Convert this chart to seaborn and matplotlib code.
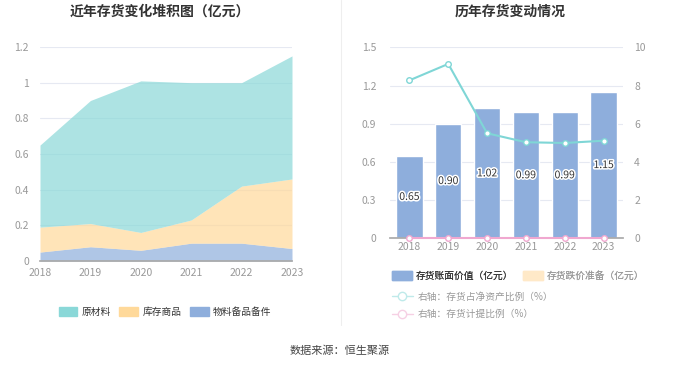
import numpy as np
import pandas as pd
import matplotlib.pyplot as plt
import seaborn as sns
from matplotlib.patches import Patch
from matplotlib.lines import Line2D
import matplotlib.patheffects as pe

# --- data ---
years = ['2018', '2019', '2020', '2021', '2022', '2023']
raw_material = [0.46, 0.69, 0.85, 0.77, 0.58, 0.69]     # 原材料
goods_stock = [0.14, 0.13, 0.10, 0.13, 0.32, 0.39]      # 库存商品
spare_parts = [0.05, 0.08, 0.06, 0.10, 0.10, 0.07]      # 物料备品备件

book_value = [0.65, 0.90, 1.02, 0.99, 0.99, 1.15]       # 存货账面价值（亿元）
net_asset_ratio = [8.27, 9.13, 5.50, 5.03, 4.99, 5.11]  # 存货占净资产比例（%）
provision_ratio = [0, 0, 0, 0, 0, 0]                    # 存货计提比例（%）

sns.set_theme(style='white')
plt.rcParams['font.family'] = ['Noto Sans CJK SC', 'DejaVu Sans']
plt.rcParams['axes.unicode_minus'] = False

c_raw = '#8ad8d8'
c_goods = '#ffd99a'
c_parts = '#8eaedc'
grid_c = '#e6e9f2'
tick_c = '#999999'

fig = plt.figure(figsize=(6.8, 3.67), dpi=100)

# ---------- left: stacked area ----------
ax = fig.add_axes([40 / 680, 106 / 367, 252 / 680, 214 / 367])
x = np.arange(len(years))
b1 = np.array(spare_parts)
b2 = b1 + np.array(goods_stock)
b3 = b2 + np.array(raw_material)
ax.fill_between(x, 0, b1, color=c_parts, alpha=0.7, lw=0)
ax.fill_between(x, b1, b2, color=c_goods, alpha=0.7, lw=0)
ax.fill_between(x, b2, b3, color=c_raw, alpha=0.7, lw=0)
ax.set_xlim(0, len(years) - 1)
ax.set_ylim(0, 1.2)
ax.set_yticks([0, 0.2, 0.4, 0.6, 0.8, 1, 1.2])
ax.set_yticklabels(['0', '0.2', '0.4', '0.6', '0.8', '1', '1.2'])
ax.set_xticks(x)
ax.set_xticklabels(years)
ax.yaxis.grid(True, color=grid_c, lw=0.8)
ax.set_axisbelow(True)
for s in ['top', 'right', 'left']:
    ax.spines[s].set_visible(False)
ax.spines['bottom'].set_color('#aaaaaa')
ax.tick_params(axis='y', length=0, labelsize=7.5, colors=tick_c, pad=8)
ax.tick_params(axis='x', length=3, color='#aaaaaa', labelsize=7.5, colors=tick_c, pad=2)
fig.text(160 / 680, 1 - 12 / 367, '近年存货变化堆积图（亿元）', ha='center', va='center',
         fontsize=10, fontweight='bold', color='#333333')

left_handles = [Patch(color=c_raw, label='原材料'),
                Patch(color=c_goods, label='库存商品'),
                Patch(color=c_parts, label='物料备品备件')]
fig.legend(handles=left_handles, loc='center', bbox_to_anchor=(165 / 680, 1 - 312 / 367),
           ncol=3, frameon=False, fontsize=7, handlelength=1.9, handleheight=1.1,
           columnspacing=0.9, handletextpad=0.45, labelcolor='#333333')

# divider
fig.add_artist(Line2D([341 / 680, 341 / 680], [1 - 325 / 367, 1.0], color='#eeeeee', lw=0.8))

# ---------- right: bars + ratio lines ----------
axr = fig.add_axes([390 / 680, 1 - 238.3 / 367, 233 / 680, 191 / 367])
df = pd.DataFrame({'year': years, 'value': book_value})
sns.barplot(data=df, x='year', y='value', color=c_parts, saturation=1, width=0.68, ax=axr)
axr.set_xlim(-0.5, len(years) - 0.5)
axr.set_ylim(0, 1.5)
axr.set_yticks([0, 0.3, 0.6, 0.9, 1.2, 1.5])
axr.set_yticklabels(['0', '0.3', '0.6', '0.9', '1.2', '1.5'])
axr.set_xlabel('')
axr.set_ylabel('')
axr.yaxis.grid(True, color=grid_c, lw=0.8)
axr.set_axisbelow(True)
for s in ['top', 'right', 'left']:
    axr.spines[s].set_visible(False)
axr.spines['bottom'].set_color('#aaaaaa')
axr.tick_params(axis='y', length=0, labelsize=7.5, colors=tick_c, pad=10)
axr.tick_params(axis='x', length=0, labelsize=7.5, colors=tick_c, pad=3)
for i, v in enumerate(book_value):
    axr.text(i, v / 2, f'{v:.2f}', ha='center', va='center', fontsize=7.5, color='#333333',
             path_effects=[pe.withStroke(linewidth=2.2, foreground='white')])

ax2 = axr.twinx()
xi = np.arange(len(years))
sns.lineplot(x=xi, y=net_asset_ratio, ax=ax2, color='#7fd6d6', lw=1.5, marker='o',
             markersize=4, markerfacecolor='white', markeredgecolor='#7fd6d6', markeredgewidth=1)
sns.lineplot(x=xi, y=provision_ratio, ax=ax2, color='#f0a8d0', lw=1.5, marker='o',
             markersize=4, markerfacecolor='white', markeredgecolor='#f0a8d0', markeredgewidth=1,
             clip_on=False, zorder=5)
ax2.set_ylim(0, 10)
ax2.set_yticks([0, 2, 4, 6, 8, 10])
ax2.grid(False)
for s in ['top', 'right', 'left', 'bottom']:
    ax2.spines[s].set_visible(False)
ax2.tick_params(axis='y', length=0, labelsize=7.5, colors=tick_c, pad=8)
fig.text(510 / 680, 1 - 12 / 367, '历年存货变动情况', ha='center', va='center',
         fontsize=10, fontweight='bold', color='#333333')

# right legend
h1 = [Patch(color=c_parts, label='存货账面价值（亿元）'),
      Patch(color='#ffe9c8', label='存货跌价准备（亿元）')]
lg1 = fig.legend(handles=h1, loc='center left', bbox_to_anchor=(383 / 680, 1 - 276 / 367),
                 ncol=2, frameon=False, fontsize=7, handlelength=2.1, handleheight=1.0,
                 columnspacing=1.0, handletextpad=0.35)
lg1.get_texts()[0].set_color('#333333')
lg1.get_texts()[1].set_color('#999999')
fig.add_artist(lg1)
h2 = [Line2D([0], [0], color='#bfeaea', marker='o', markersize=6, markerfacecolor='white',
             markeredgecolor='#bfeaea', lw=1, label='右轴：存货占净资产比例（%）'),
      Line2D([0], [0], color='#f6d0e4', marker='o', markersize=6, markerfacecolor='white',
             markeredgecolor='#f6d0e4', lw=1, label='右轴：存货计提比例（%）')]
fig.legend(handles=h2, loc='upper left', bbox_to_anchor=(383 / 680, 1 - 283 / 367),
           ncol=1, frameon=False, fontsize=7, handlelength=2.2, handletextpad=0.45,
           labelspacing=0.75, labelcolor='#999999')

fig.text(340 / 680, 1 - 351 / 367, '数据来源：恒生聚源', ha='center', va='center',
         fontsize=8, color='#444444')

fig.savefig('out.png', dpi=100)
